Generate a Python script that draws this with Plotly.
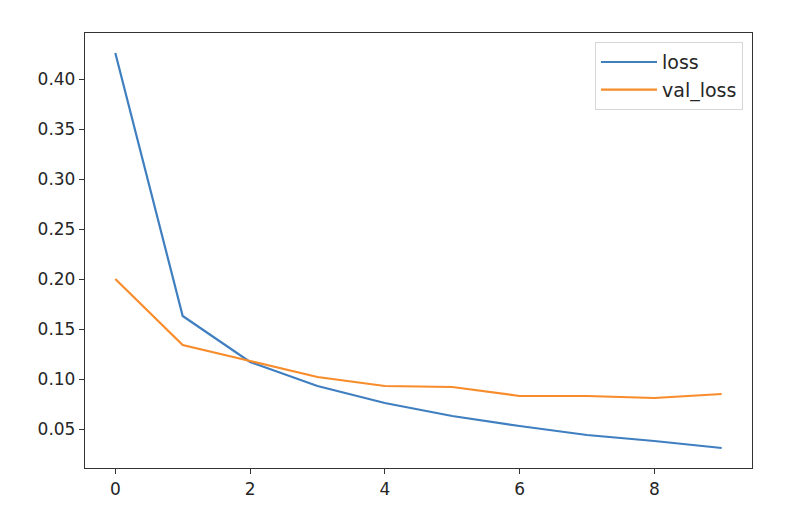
import plotly.graph_objects as go

epochs = [0, 1, 2, 3, 4, 5, 6, 7, 8, 9]
loss = [0.426, 0.163, 0.117, 0.093, 0.076, 0.063, 0.053, 0.044, 0.038, 0.031]
val_loss = [0.200, 0.134, 0.118, 0.102, 0.093, 0.092, 0.083, 0.083, 0.081, 0.085]
x_ticks = [0, 2, 4, 6, 8]
y_ticks = [0.05, 0.10, 0.15, 0.20, 0.25, 0.30, 0.35, 0.40]

fig = go.Figure()
fig.add_trace(go.Scatter(x=epochs, y=loss, mode="lines", name="loss",
                         line=dict(color="#3f7fc0", width=2.2)))
fig.add_trace(go.Scatter(x=epochs, y=val_loss, mode="lines", name="val_loss",
                         line=dict(color="#f88b2a", width=2.2)))

axis_common = dict(showgrid=False, zeroline=False, showline=True, linecolor="#333333",
                   linewidth=1.3, mirror=True, ticks="outside", ticklen=5, tickwidth=1.2,
                   tickcolor="#333333", tickfont=dict(family="DejaVu Sans", size=17, color="#262626"))

fig.update_layout(
    width=792, height=516,
    margin=dict(l=77, r=48, t=25, b=56),
    paper_bgcolor="white", plot_bgcolor="white",
    xaxis=dict(range=[-0.45, 9.45], tickvals=x_ticks, ticktext=[str(v) for v in x_ticks], **axis_common),
    yaxis=dict(range=[0.011, 0.446], tickvals=y_ticks, ticktext=[f"{v:.2f}" for v in y_ticks], **axis_common),
    legend=dict(x=0.9865, y=0.979, xanchor="right", yanchor="top",
                bgcolor="rgba(255,255,255,0.8)", bordercolor="#d6d6d6", borderwidth=1,
                font=dict(family="DejaVu Sans", size=19, color="#262626"),
                itemwidth=56, tracegroupgap=4),
    showlegend=True,
)

fig.write_html("out.html")
